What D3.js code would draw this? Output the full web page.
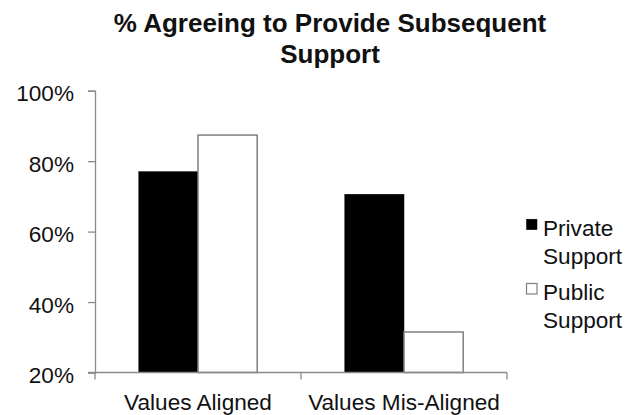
<!DOCTYPE html>
<html><head><meta charset="utf-8">
<script src="https://cdn.jsdelivr.net/npm/d3@7"></script>
<style>body{margin:0;background:#fff;} svg{display:block;} text{font-family:"Liberation Sans",Arial,sans-serif;fill:#111;}</style>
</head><body>
<svg id="c" width="634" height="415"></svg>
<script>
const categories = ["Values Aligned", "Values Mis-Aligned"];
const seriesNames = ["Private Support", "Public Support"];
const privateSupport = [77.0, 70.6];
const publicSupport = [87.4, 31.5];
const yTicks = [20, 40, 60, 80, 100];
const titleLines = ["% Agreeing to Provide Subsequent", "Support"];
const legendLines = [["Private", "Support"], ["Public", "Support"]];
const seriesFill = ["#000000", "#ffffff"];
const seriesStroke = ["#000000", "#808080"];

const svg = d3.select("#c");
const axisColor = "#8a8a8a";
const labelSize = "22.6px";

const y = d3.scaleLinear().domain([20, 100]).range([372.5, 90.7]);
const x0 = d3.scaleBand().domain(categories).range([95, 507]);
const x1 = d3.scaleBand().domain(seriesNames).range([0, x0.bandwidth()]).paddingInner(0).paddingOuter(0.74);

// title
svg.append("text").attr("x", 330).attr("y", 31.5).attr("text-anchor", "middle")
  .style("font-size", "26px").style("font-weight", "bold")
  .selectAll("tspan").data(titleLines).join("tspan")
  .attr("x", 330).attr("dy", (d, i) => i === 0 ? 0 : 31).text(d => d);

// bars
const rows = categories.map((c, i) => ({cat: c, vals: [privateSupport[i], publicSupport[i]]}));
const g = svg.append("g");
rows.forEach(r => {
  r.vals.forEach((v, j) => {
    const s = seriesNames[j];
    g.append("rect")
      .attr("x", x0(r.cat) + x1(s))
      .attr("y", y(v))
      .attr("width", x1.bandwidth())
      .attr("height", y(20) - y(v))
      .attr("fill", seriesFill[j])
      .attr("stroke", seriesStroke[j])
      .attr("stroke-width", j === 0 ? 0.5 : 1.5);
  });
});

// y axis
const ya = svg.append("g").attr("transform", "translate(95,0)")
  .call(d3.axisLeft(y).tickValues(yTicks).tickFormat(d => d + "%").tickSize(7).tickPadding(14));
ya.select(".domain").attr("stroke", axisColor).attr("stroke-width", 1.3);
ya.selectAll(".tick line").attr("stroke", axisColor).attr("stroke-width", 1.3);
ya.selectAll(".tick text").style("font-size", labelSize).attr("fill", "#111").attr("dy", "0.45em")
  .style("font-family", "'Liberation Sans',Arial,sans-serif");

// x axis
const xa = svg.append("g").attr("transform", `translate(0,${y(20)})`)
  .call(d3.axisBottom(x0).tickSize(0).tickPadding(21));
xa.select(".domain").remove();
xa.append("line").attr("x1", 88).attr("x2", 507).attr("y1", 0).attr("y2", 0)
  .attr("stroke", axisColor).attr("stroke-width", 1.3);
const bounds = [95].concat(categories.map(c => x0(c) + x0.bandwidth()));
xa.selectAll(".bt").data(bounds).join("line").attr("class", "bt")
  .attr("x1", d => d).attr("x2", d => d).attr("y1", 0).attr("y2", 7)
  .attr("stroke", axisColor).attr("stroke-width", 1.3);
xa.selectAll(".tick text").style("font-size", labelSize).attr("fill", "#111")
  .style("font-family", "'Liberation Sans',Arial,sans-serif").attr("dy", "0.71em");

// legend
const lg = svg.append("g");
const legY = [235.7, 300];
seriesNames.forEach((s, i) => {
  lg.append("rect").attr("x", 526.5).attr("y", legY[i] - 16.5).attr("width", 10.5).attr("height", 10.5)
    .attr("fill", seriesFill[i]).attr("stroke", seriesStroke[i]).attr("stroke-width", i === 0 ? 0.5 : 1.2);
  lg.append("text").attr("x", 543).attr("y", legY[i]).style("font-size", labelSize)
    .selectAll("tspan").data(legendLines[i]).join("tspan")
    .attr("x", 543).attr("dy", (d, k) => k === 0 ? 0 : 28.3).text(d => d);
});
</script>
</body></html>
